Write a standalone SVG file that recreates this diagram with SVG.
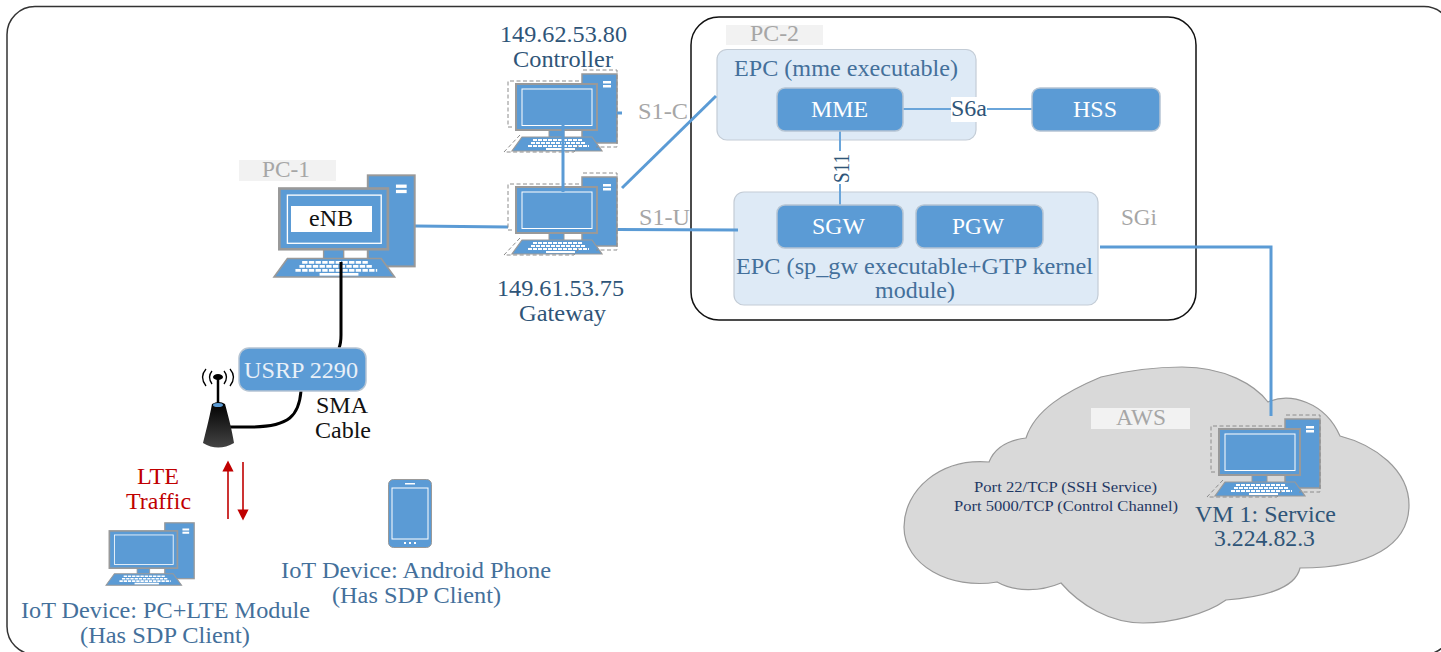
<svg xmlns="http://www.w3.org/2000/svg" xmlns:xlink="http://www.w3.org/1999/xlink" width="1441" height="652" viewBox="0 0 1441 652">
<style>
text{font-family:"Liberation Serif","Times New Roman",serif;font-size:22.5px}
.navy{fill:#2f5578}.steel{fill:#44709b}.grey{fill:#a6a6a6}.black{fill:#111}.white{fill:#fff}.red{fill:#c00000}
.tag{fill:#f2f2f2}
.box{fill:#deeaf6;stroke:#c3ccd6;stroke-width:1.2}
.blue{fill:#5b9bd5;stroke:#b5c4d3;stroke-width:1.5}
.wire{fill:none;stroke:#5b9bd5;stroke-width:3}
.thin{fill:none;stroke:#6aa5da;stroke-width:2}
.cable{fill:none;stroke:#000;stroke-width:3}
.dash{fill:none;stroke:#8c8c8c;stroke-width:1;stroke-dasharray:4 2.5}
.redl{stroke:#c00000;stroke-width:1.6;fill:none}
</style>
<defs>
<g id="computer">
<rect x="70" y="1" width="35" height="69" fill="#5b9bd5" stroke="#999" stroke-width="1.5"/>
<rect x="91" y="8" width="8" height="2.5" fill="#fff"/><rect x="91" y="12" width="8" height="2.5" fill="#fff"/>
<rect x="37" y="57" width="15" height="8" fill="#5b9bd5" stroke="#999"/>
<rect x="4" y="11" width="81" height="46" fill="#5b9bd5" stroke="#999" stroke-width="2"/>
<rect x="10" y="16" width="70" height="36.500" fill="#5b9bd5" stroke="#fff" stroke-width="1"/>
<path d="M10 64H80L90 78H0Z" fill="#5b9bd5" stroke="#999" stroke-width="1.2"/>
<path d="M21 67H71M19 70H74M16 73H77" fill="none" stroke="#fff" stroke-width="2" stroke-dasharray="4 1"/>
<rect x="34" y="75" width="29" height="2" fill="#fff"/>
</g>
<g id="dashes"><path class="dash" d="M71-3H105V74H84M67 8H-4V54H2M8 62L-8 79H62L68 71"/></g>
<marker id="redhead" viewBox="0 0 10 10" refX="5" refY="5" markerWidth="7" markerHeight="7" orient="auto"><path d="M0 0L10 5L0 10Z" fill="#c00000"/></marker>
<linearGradient id="ant" x1="0" y1="0" x2="0" y2="1"><stop offset="0" stop-color="#000"/><stop offset="1" stop-color="#444"/></linearGradient>
</defs>

<rect id="frame" x="7" y="6.500" width="1445" height="648" rx="28" fill="#fff" stroke="#333" stroke-width="1.500"/>
<g id="pc2-frame"><rect x="691" y="17" width="505" height="303" rx="28" fill="#fff" stroke="#111" stroke-width="1.5"/></g>

<g id="cloud"><path d="M1026 438C1035 410 1065 392 1101 377C1130 370 1160 367 1182 367C1225 367 1255 385 1268 402C1290 392 1325 402 1340 436C1375 445 1409 470 1409 505C1409 545 1370 568 1300 568C1295 590 1260 597 1226 600C1205 615 1170 623 1143 623C1110 623 1080 605 1061 583C1040 592 1015 592 997 582C950 590 904 565 904 527C904 490 940 458 989 462C995 447 1010 440 1026 438Z" fill="#d9d9d9" stroke="#999" stroke-width="1.2"/></g>

<g id="pc2-tag"><rect class="tag" x="726" y="25" width="97" height="20"/><text class="grey" x="750" y="41" textLength="49" lengthAdjust="spacingAndGlyphs">PC-2</text></g>
<g id="epc-mme"><rect class="box" x="717" y="49.500" width="259" height="90.500" rx="10"/><text class="steel" x="734" y="76" textLength="224" lengthAdjust="spacingAndGlyphs">EPC (mme executable)</text></g>
<g id="epc-gw"><rect class="box" x="734" y="192" width="364" height="113" rx="10"/><text class="steel" x="736" y="274" textLength="357" lengthAdjust="spacingAndGlyphs">EPC (sp_gw executable+GTP kernel</text><text class="steel" x="875" y="298" textLength="80" lengthAdjust="spacingAndGlyphs">module)</text></g>

<g id="connectors">
<path class="wire" d="M415 226L508 227"/>
<path class="wire" d="M622 188L716 96"/>
<path class="wire" d="M617 229.500L738 230"/>
<path class="thin" d="M903 109H951M987 109H1032"/>
<path class="thin" d="M840 131V151M840 184V205"/>
<path class="wire" d="M1100 247H1271V416"/>
<path class="cable" d="M301 391C299 415 290 427 250 427H221"/>
<path class="redl" d="M228 519V466" marker-end="url(#redhead)"/>
<path class="redl" d="M243 462V515" marker-end="url(#redhead)"/>
</g>

<g id="mme"><rect class="blue" x="777" y="88" width="126" height="43" rx="8"/><text class="white" x="811" y="117" textLength="57" lengthAdjust="spacingAndGlyphs">MME</text></g>
<g id="hss"><rect class="blue" x="1032" y="88" width="128" height="43" rx="8"/><text class="white" x="1073" y="117" textLength="44" lengthAdjust="spacingAndGlyphs">HSS</text></g>
<g id="sgw"><rect class="blue" x="777" y="205" width="126" height="43" rx="8"/><text class="white" x="812" y="234" textLength="53" lengthAdjust="spacingAndGlyphs">SGW</text></g>
<g id="pgw"><rect class="blue" x="916" y="205" width="127" height="43" rx="8"/><text class="white" x="952" y="234" textLength="52" lengthAdjust="spacingAndGlyphs">PGW</text></g>
<g id="s6a"><rect x="951" y="97" width="36" height="25" fill="#fff"/><text class="navy" x="951" y="116" textLength="36" lengthAdjust="spacingAndGlyphs">S6a</text></g>
<g id="s11"><text class="navy" transform="translate(849 183) rotate(-90)" textLength="29" lengthAdjust="spacingAndGlyphs">S11</text></g>
<text class="grey" x="638" y="119" textLength="50" lengthAdjust="spacingAndGlyphs">S1-C</text>
<text class="grey" x="639" y="225" textLength="51" lengthAdjust="spacingAndGlyphs">S1-U</text>
<text class="grey" x="1121" y="225" textLength="36" lengthAdjust="spacingAndGlyphs">SGi</text>

<g id="controller"><use xlink:href="#computer" href="#computer" x="512" y="73"/><use xlink:href="#dashes" href="#dashes" x="512" y="73"/><path class="wire" d="M617 113H622"/>
<text class="navy" x="500" y="42" textLength="127" lengthAdjust="spacingAndGlyphs">149.62.53.80</text><text class="navy" x="513" y="67" textLength="100" lengthAdjust="spacingAndGlyphs">Controller</text></g>
<g id="gateway"><use xlink:href="#computer" href="#computer" x="512" y="176"/><use xlink:href="#dashes" href="#dashes" x="512" y="176"/>
<text class="navy" x="497" y="296" textLength="127" lengthAdjust="spacingAndGlyphs">149.61.53.75</text><text class="navy" x="519" y="321" textLength="87" lengthAdjust="spacingAndGlyphs">Gateway</text></g>
<path class="wire" d="M563 125V192"/>

<g id="pc1"><rect class="tag" x="239" y="160" width="97" height="21"/><text class="grey" x="262" y="177" textLength="48" lengthAdjust="spacingAndGlyphs">PC-1</text>
<use xlink:href="#computer" href="#computer" transform="translate(274 174) scale(1.34 1.32)"/>
<rect x="291" y="206" width="81" height="26" fill="#fff"/><text class="black" x="309" y="226" textLength="44" lengthAdjust="spacingAndGlyphs">eNB</text></g>
<path class="cable" d="M341 262V335Q341 343 339 348"/>

<g id="usrp"><rect class="blue" x="239" y="348" width="127" height="43" rx="10"/><text fill="#e8f0f8" x="244" y="378" textLength="114" lengthAdjust="spacingAndGlyphs">USRP 2290</text></g>
<g id="antenna"><path d="M212 404C209 420 205 435 203 443Q218 452 234 443C232 430 228 415 225 404Q219 400 212 404Z" fill="url(#ant)"/><ellipse cx="218" cy="405" rx="5" ry="2" fill="#5b9bd5"/><path d="M218 378V403" stroke="#000" stroke-width="2.5"/><ellipse cx="218" cy="377" rx="5" ry="3" fill="#000"/>
<path d="M212 371Q207 377 212 384M206 369Q199 377 206 386M224 371Q229 377 224 384M230 369Q237 377 230 386" fill="none" stroke="#000" stroke-width="1.3"/></g>
<text class="black" x="316" y="413" textLength="52" lengthAdjust="spacingAndGlyphs">SMA</text>
<text class="black" x="315" y="438" textLength="56" lengthAdjust="spacingAndGlyphs">Cable</text>
<text class="red" x="137" y="484" textLength="42" lengthAdjust="spacingAndGlyphs">LTE</text>
<text class="red" x="126" y="509" textLength="65" lengthAdjust="spacingAndGlyphs">Traffic</text>

<g id="iot-pc"><use xlink:href="#computer" href="#computer" transform="translate(106 522) scale(.84 .81)"/><text class="steel" x="21" y="618" textLength="289" lengthAdjust="spacingAndGlyphs">IoT Device: PC+LTE Module</text><text class="steel" x="80" y="643" textLength="170" lengthAdjust="spacingAndGlyphs">(Has SDP Client)</text></g>
<g id="iot-phone"><rect x="388.500" y="479.500" width="43" height="68" rx="5" fill="#5b9bd5" stroke="#999"/><rect x="392" y="488" width="36" height="51" fill="#5b9bd5" stroke="#fff"/><rect x="405" y="483" width="10" height="1.500" fill="#fff"/><path d="M404 543H417" stroke="#fff" stroke-width="2" stroke-dasharray="2 3"/>
<text class="steel" x="281" y="578" textLength="270" lengthAdjust="spacingAndGlyphs">IoT Device: Android Phone</text><text class="steel" x="332" y="603" textLength="169" lengthAdjust="spacingAndGlyphs">(Has SDP Client)</text></g>

<g id="aws"><rect class="tag" x="1091" y="408" width="99" height="21"/><text class="grey" x="1116" y="425" textLength="50" lengthAdjust="spacingAndGlyphs">AWS</text>
<text fill="#1f3864" style="font-size:15px" x="974" y="492" textLength="183" lengthAdjust="spacingAndGlyphs">Port 22/TCP (SSH Service)</text>
<text fill="#1f3864" style="font-size:15px" x="954" y="511" textLength="224" lengthAdjust="spacingAndGlyphs">Port 5000/TCP (Control Channel)</text></g>
<g id="vm1"><use xlink:href="#computer" href="#computer" x="1215" y="418"/><use xlink:href="#dashes" href="#dashes" x="1215" y="418"/>
<text class="navy" x="1195" y="522" textLength="141" lengthAdjust="spacingAndGlyphs">VM 1: Service</text><text class="navy" x="1214" y="546" textLength="101" lengthAdjust="spacingAndGlyphs">3.224.82.3</text></g>
</svg>
